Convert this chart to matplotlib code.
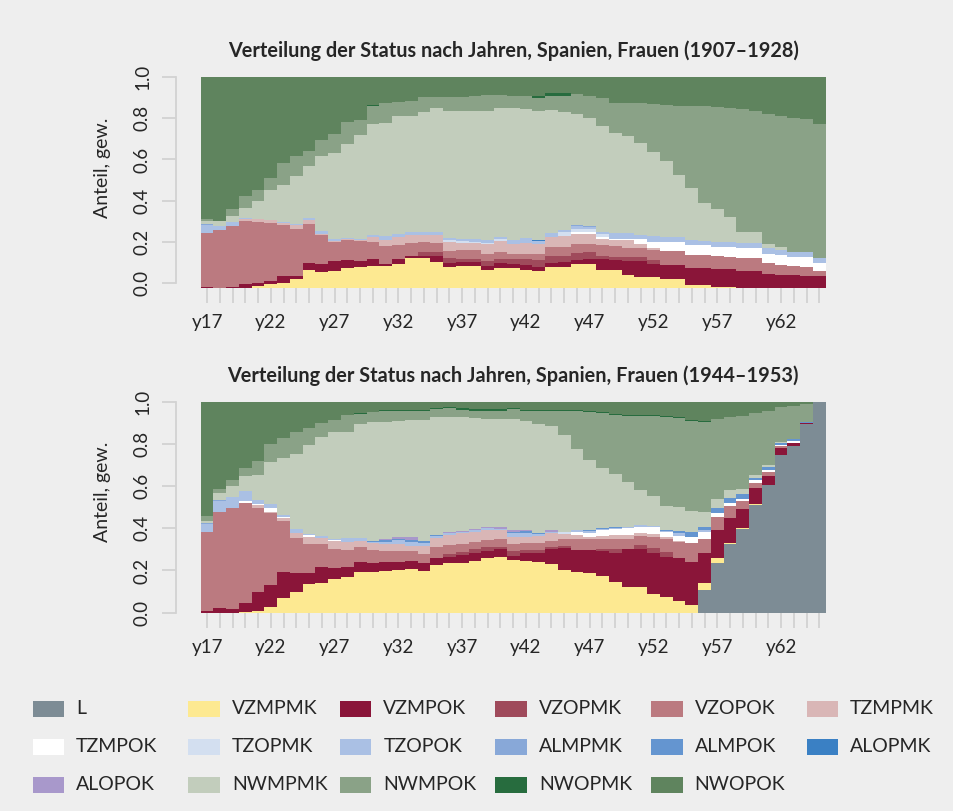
import numpy as np
import matplotlib
matplotlib.use("Agg")
import matplotlib.pyplot as plt
from matplotlib.patches import Rectangle

plt.rcParams['font.family'] = ['Lato', 'DejaVu Sans']

# ---------------- categories ----------------
years = [f"y{y}" for y in range(17, 66)]
series = ["L", "VZMPMK", "VZMPOK", "VZOPMK", "VZOPOK", "TZMPMK", "TZMPOK",
          "TZOPMK", "TZOPOK", "ALMPMK", "ALMPOK", "ALOPMK", "ALOPOK",
          "NWMPMK", "NWMPOK", "NWOPMK", "NWOPOK"]
colors = ["#7d8c95", "#fde991", "#8a1539", "#9f4a5b", "#bb7a80", "#d9b6b6", "#ffffff",
          "#d3dff0", "#aac0e4", "#88a8d8", "#6495d0", "#3a80c4", "#a898cb",
          "#c2cdbc", "#8aa287", "#276c3e", "#5f845e"]
titles = ["Verteilung der Status nach Jahren, Spanien, Frauen (1907\u20131928)",
          "Verteilung der Status nach Jahren, Spanien, Frauen (1944\u20131953)"]

# ---------------- top panel (1907-1928), shares in % ----------------
top_L = [0] * 49
top_VZMPMK = [0, 0, 0, 0, 0.8, 1.6, 2.4, 4.4, 8.4, 7.4, 8.1, 9.5, 10.0, 10.4, 10.4, 11.2, 14.2, 14.2, 12.2, 10.0,
              10.3, 10.3, 8.4, 9.5, 9.6, 8.7, 7.9, 10.0, 10.0, 11.5, 11.5, 8.4, 8.4, 6.0, 4.9, 4.9, 4.4, 4.4, 1.1, 1.1,
              0.5, 0.5, 0, 0, 0, 0, 0, 0, 0]
top_VZMPOK = [0.5, 0, 0.5, 1.6, 1.7, 1.7, 3.2, 1.1, 3.5, 4.1, 4.7, 3.6, 2.7, 3.5, 0.8, 2.5, 1.1, 0.8, 2.8, 1.9,
              1.9, 1.9, 1.9, 2.1, 1.9, 2.1, 2.1, 1.9, 2.1, 1.9, 2.1, 5.2, 4.7, 6.8, 7.9, 6.3, 6.6, 6.6, 8.5, 8.4,
              8.5, 8.4, 8.1, 8.1, 6.8, 6.3, 6.0, 5.7, 5.7]
top_VZOPMK = [0, 0, 0, 0, 0, 0, 0, 0, 0, 0, 0, 0, 0, 0, 0, 0, 0, 2.1, 2.1, 2.4,
              1.6, 1.6, 2.4, 1.9, 2.1, 2.7, 3.2, 3.2, 3.0, 3.3, 3.5, 1.4, 1.6, 1.9, 1.9, 1.9, 0, 0, 0, 0,
              0, 0, 0, 0, 0, 0, 0, 0, 0]
top_VZOPOK = [25.7, 27.3, 28.9, 30.0, 28.8, 27.5, 24.2, 22.6, 18.6, 13.6, 9.0, 9.5, 9.5, 7.9, 8.5, 6.8, 6.0, 4.6, 4.3, 3.3,
              4.1, 4.1, 3.3, 3.6, 2.7, 2.4, 2.7, 4.4, 4.4, 4.3, 3.9, 5.2, 5.1, 4.4, 4.4, 4.7, 6.5, 6.5, 6.2, 6.0,
              6.0, 5.8, 6.2, 6.2, 5.2, 4.7, 4.3, 4.3, 2.2]
top_TZMPMK = [0, 0, 0, 1.1, 1.4, 1.6, 1.1, 1.6, 1.6, 0.5, 0.5, 0.5, 0.5, 2.4, 3.2, 3.6, 3.8, 3.3, 3.6, 4.3,
              3.2, 3.5, 4.6, 5.1, 4.7, 5.2, 4.9, 4.4, 5.2, 4.7, 4.4, 3.2, 2.8, 3.5, 1.6, 1.3, 0, 0, 0, 0,
              0, 0, 0, 0, 0, 0, 0, 0, 0]
top_TZMPOK = [0, 0, 0, 0, 0, 0, 0, 0, 0, 0, 0, 0, 0, 0, 0, 0, 0, 0, 0, 0,
              0, 0, 0, 0, 0, 0, 0, 0, 0, 0.8, 1.1, 0.8, 0.8, 0.8, 2.7, 2.7, 4.3, 4.3, 4.4, 4.7,
              4.4, 4.7, 4.4, 4.4, 4.3, 4.4, 4.4, 4.7, 3.9]
top_TZOPMK = [0, 0, 0, 0, 0, 0, 0, 0, 0, 0, 0, 0, 0, 0, 0, 0, 0, 0, 0, 0.8,
              1.1, 0.5, 0.8, 0.8, 0, 0, 0, 0, 1.9, 1.6, 1.6, 1.3, 0, 0, 0, 0, 0, 0, 0, 0,
              0, 0, 0, 0, 0, 0, 0, 0, 0]
top_TZOPOK = [3.9, 2.2, 1.9, 0.5, 0, 0, 0.3, 0.6, 0.9, 1.3, 1.1, 0.8, 0.5, 1.1, 1.6, 1.3, 1.4, 1.3, 1.3, 0.8,
              0.9, 1.3, 1.3, 1.3, 1.6, 2.4, 1.4, 2.2, 0.8, 1.3, 1.1, 1.1, 2.7, 2.7, 1.6, 2.7, 2.4, 2.4, 2.4, 2.1,
              2.4, 2.4, 2.4, 2.4, 2.4, 2.4, 2.1, 2.1, 2.5]
top_ALMPMK = [0.3, 0, 0, 0, 0, 0, 0, 0, 0, 0, 0, 0, 0, 0, 0, 0, 0, 0, 0, 0,
              0, 0, 0, 0, 0.3, 0, 0, 0, 0, 0.3, 0.3, 0, 0, 0, 0, 0, 0, 0, 0, 0,
              0, 0, 0, 0, 0, 0, 0, 0, 0]
top_ALMPOK = [0] * 49
top_ALOPMK = [0, 0, 0, 0, 0, 0, 0, 0, 0, 0, 0, 0, 0, 0, 0, 0, 0, 0, 0, 0,
              0, 0, 0, 0, 0, 0, 0.5, 0, 0, 0, 0, 0, 0, 0, 0, 0, 0, 0, 0, 0,
              0, 0, 0, 0, 0, 0, 0, 0, 0]
top_ALOPOK = [0] * 49
top_NWMPMK = [1.3, 2.1, 2.7, 4.7, 8.5, 13.9, 17.5, 22.9, 24.8, 36.0, 41.1, 44.7, 49.8, 52.6, 53.9, 56.1, 55.0, 57.2, 59.2, 60.5,
              60.8, 60.8, 61.3, 61.3, 62.9, 61.6, 61.3, 58.6, 56.1, 53.2, 51.5, 50.6, 47.4, 45.8, 43.8, 40.0, 35.9, 29.2, 24.8, 18.2,
              15.5, 11.8, 5.2, 5.2, 2.1, 1.6, 0, 0, 0]
top_NWMPOK = [1.3, 0, 3.3, 5.5, 5.4, 5.8, 10.6, 9.2, 7.0, 7.9, 8.8, 10.4, 7.1, 8.7, 9.3, 7.0, 7.4, 7.1, 5.1, 7.0,
              7.0, 7.1, 7.7, 6.2, 5.8, 6.3, 6.2, 6.6, 7.9, 9.5, 10.3, 13.0, 14.2, 15.8, 19.0, 22.9, 26.9, 33.2, 38.9, 45.8,
              48.5, 51.7, 58.8, 58.0, 61.9, 62.4, 64.0, 63.5, 63.5]
top_NWOPMK = [0, 0, 0, 0, 0, 0, 0, 0, 0, 0, 0, 0, 0, 0.3, 0, 0, 0, 0, 0, 0,
              0, 0, 0, 0, 0, 0, 1.1, 1.3, 1.1, 0, 0, 0, 0, 0, 0, 0, 0, 0, 0, 0,
              0, 0, 0, 0, 0, 0, 0, 0, 0]
top_NWOPOK = [67.3, 68.4, 62.7, 56.6, 53.4, 47.9, 40.8, 37.6, 35.2, 29.7, 27.2, 21.5, 20.5, 13.4, 12.3, 11.5, 11.1, 9.5, 9.5, 9.2,
              9.2, 9.0, 8.4, 8.4, 8.7, 8.7, 8.8, 7.4, 7.6, 7.9, 9.0, 10.0, 12.3, 12.3, 12.3, 12.6, 13.1, 13.4, 13.7, 13.7,
              14.2, 14.7, 15.0, 15.8, 17.4, 18.2, 19.3, 19.7, 22.1]

# ---------------- bottom panel (1944-1953), shares in % ----------------
bot_L = [0, 0, 0, 0, 0, 0, 0, 0, 0, 0, 0, 0, 0, 0, 0, 0, 0, 0, 0, 0,
         0, 0, 0, 0, 0, 0, 0, 0, 0, 0, 0, 0, 0, 0, 0, 0, 0, 0, 0, 10.7,
         23.7, 32.5, 40.0, 51.0, 61.0, 75.2, 79.5, 89.7, 100]
bot_VZMPMK = [0, 0, 0, 0.3, 0.9, 2.8, 7.1, 9.6, 13.4, 14.2, 15.8, 17.1, 19.1, 19.4, 19.7, 20.2, 21.0, 19.9, 22.6, 23.4,
              23.4, 24.6, 25.8, 26.5, 25.0, 24.6, 24.2, 23.1, 20.5, 19.4, 18.6, 17.4, 14.7, 12.0, 12.0, 8.8, 7.6, 5.7, 3.6, 3.5,
              2.4, 0.3, 0.3, 0.5, 0, 0, 0, 0, 0]
bot_VZMPOK = [0.8, 2.1, 1.6, 4.4, 8.7, 10.3, 12.3, 9.3, 5.2, 7.6, 5.5, 4.7, 5.1, 4.3, 4.4, 3.9, 3.6, 3.9, 3.2, 3.2,
              3.9, 3.5, 3.5, 3.6, 2.1, 3.5, 4.4, 7.1, 10.3, 10.6, 11.1, 12.0, 13.9, 18.2, 18.2, 19.6, 19.0, 20.5, 20.2, 14.4,
              13.1, 12.3, 8.8, 7.7, 4.3, 3.2, 1.3, 0.5, 0]
bot_VZOPMK = [0, 0, 0, 0, 0, 0, 0, 0, 0, 0, 0, 0, 0, 0, 0, 0, 0, 0, 0, 1.3,
              1.6, 1.9, 2.1, 1.1, 2.2, 1.6, 1.4, 1.1, 0.8, 0, 0, 0.8, 1.6, 0.3, 1.9, 2.4, 2.1, 0, 0, 0,
              0, 0, 0, 0, 0, 0, 0, 0, 0]
bot_VZOPOK = [37.6, 45.7, 48.3, 47.4, 40.3, 34.0, 24.0, 16.7, 13.9, 10.7, 8.8, 7.9, 6.8, 6.0, 5.2, 5.5, 4.6, 4.3, 5.2, 4.3,
              3.6, 3.6, 3.2, 3.6, 3.3, 3.2, 3.2, 2.7, 3.6, 5.2, 5.5, 5.1, 5.1, 4.7, 4.4, 5.2, 6.3, 7.4, 9.3, 6.6,
              6.3, 5.5, 3.8, 2.5, 1.9, 0.8, 0, 0, 0]
bot_TZMPMK = [0, 0, 0, 0, 1.1, 0.8, 1.6, 2.2, 3.2, 3.0, 3.8, 3.9, 3.2, 3.2, 3.2, 3.2, 2.8, 3.5, 4.6, 4.7,
              5.1, 4.7, 4.7, 4.3, 3.5, 3.2, 3.2, 3.9, 2.4, 1.6, 0.8, 1.1, 1.6, 1.6, 1.6, 1.6, 0.8, 0.8, 0, 0,
              0, 0, 0, 0, 0, 0, 0, 0, 0]
bot_TZMPOK = [0, 0, 0, 0.8, 0.5, 1.6, 0.5, 0, 0.9, 0, 0.8, 0, 0, 0, 0, 0, 0, 0, 0, 0,
              0, 0, 0, 0, 0, 0, 0, 0, 0, 1.6, 2.1, 2.8, 3.2, 3.5, 3.0, 3.2, 2.4, 2.4, 2.8, 3.2,
              1.9, 1.6, 1.3, 1.1, 0.8, 0.8, 1.1, 0, 0]
bot_TZOPMK = [0, 0, 0, 0, 0, 0, 0, 0, 0, 0, 0, 0, 0, 0, 0, 0, 0, 0, 0, 0,
              0, 0, 0, 0, 0, 0, 0, 0, 0.8, 0, 0, 0, 0, 0, 0, 0, 0, 0, 0, 0,
              0, 0, 0, 0, 0, 0, 0, 0, 0]
bot_TZOPOK = [3.9, 5.4, 5.1, 4.7, 2.2, 1.9, 1.1, 2.1, 0.9, 0.9, 0.5, 1.9, 1.1, 0.8, 1.3, 1.6, 1.6, 1.6, 0.9, 1.1,
              0.8, 1.1, 0.8, 0.8, 1.6, 1.9, 0.9, 0.5, 0, 0.8, 0.8, 0.8, 0.5, 0.5, 0.5, 0.5, 0.8, 1.1, 0, 1.1,
              0, 0, 0, 0, 0, 0, 0, 0, 0]
bot_ALMPMK = [0.5, 0.5, 0, 0, 0, 0, 0, 0, 0, 0, 0, 0, 0, 0, 0, 0, 0, 0, 0, 0,
              0, 0, 0, 0, 0, 0, 0, 0, 0, 0, 0, 0, 0, 0, 0, 0, 0, 0, 0, 0,
              0, 0, 0, 0, 0, 0, 0, 0, 0]
bot_ALMPOK = [0, 0, 0, 0, 0, 0, 0, 0, 0, 0, 0, 0, 0, 0.5, 0.6, 0.8, 1.3, 0.9, 0.6, 0,
              0, 0, 0, 0, 0.8, 0.6, 0.8, 0, 0, 0, 0.5, 0.3, 0.3, 0, 0, 0, 0.5, 1.3, 2.4, 1.3,
              2.1, 2.2, 2.4, 1.1, 1.3, 0.6, 0.8, 0.6, 0]
bot_ALOPMK = [0] * 49
bot_ALOPOK = [0, 0, 0, 0, 0, 0, 0, 0, 0, 0, 0, 0, 0, 0, 0.8, 0.8, 1.1, 0, 0, 0.5,
              0.3, 0.5, 0.8, 0.8, 0.8, 0.6, 0, 0.8, 0, 0, 0, 0, 0, 0, 0, 0, 0, 0, 0, 0,
              0, 0, 0, 0, 0, 0, 0, 0, 0]
bot_NWMPMK = [0.8, 3.3, 5.2, 7.1, 11.5, 20.2, 26.9, 35.2, 41.9, 46.9, 50.6, 50.6, 54.5, 56.4, 55.8, 55.6, 56.1, 58.0, 56.1, 54.8,
              54.5, 52.4, 51.3, 51.3, 52.9, 52.1, 52.1, 49.8, 46.6, 38.7, 33.5, 28.6, 25.3, 21.3, 17.1, 14.5, 11.4, 11.4, 10.0, 7.1,
              4.4, 3.6, 2.4, 1.6, 0.8, 0.5, 0, 0, 0]
bot_NWMPOK = [2.2, 1.6, 2.7, 4.1, 6.8, 8.7, 9.6, 10.9, 8.2, 6.6, 6.0, 7.9, 4.7, 4.7, 5.1, 4.7, 4.4, 4.4, 3.6, 3.9,
              3.2, 3.6, 3.6, 3.9, 4.4, 4.7, 6.2, 7.4, 11.1, 18.2, 22.6, 26.4, 28.4, 31.9, 35.1, 37.9, 42.3, 42.3, 42.7, 43.1,
              38.2, 34.8, 34.8, 29.2, 25.8, 16.6, 15.8, 8.4, 0]
bot_NWOPMK = [0, 0, 0, 0, 0, 0, 0, 0, 0, 0, 0, 0, 0.3, 0.3, 0.3, 0.5, 0.5, 0.5, 0.5, 0.5,
              0.8, 0.8, 1.1, 0.8, 0.6, 0.5, 0.4, 0.4, 0.4, 0.4, 0.4, 0.4, 0.4, 0.4, 0.4, 0.4, 0.4, 0.5, 0.5, 0.4,
              0, 0, 0, 0, 0, 0, 0, 0, 0]
bot_NWOPOK = [54.2, 41.5, 37.1, 31.1, 28.0, 19.7, 16.9, 13.9, 12.3, 10.0, 8.2, 6.0, 5.2, 4.4, 3.9, 3.6, 3.5, 3.5, 2.7, 2.4,
              2.8, 3.2, 3.2, 3.2, 2.8, 3.5, 3.6, 3.6, 3.9, 3.9, 4.3, 4.7, 5.5, 6.0, 6.3, 6.3, 6.6, 7.1, 8.5, 9.0,
              7.9, 7.1, 6.3, 5.2, 4.3, 2.4, 1.6, 0.8, 0]

top_data = [top_L, top_VZMPMK, top_VZMPOK, top_VZOPMK, top_VZOPOK, top_TZMPMK, top_TZMPOK,
            top_TZOPMK, top_TZOPOK, top_ALMPMK, top_ALMPOK, top_ALOPMK, top_ALOPOK,
            top_NWMPMK, top_NWMPOK, top_NWOPMK, top_NWOPOK]
bot_data = [bot_L, bot_VZMPMK, bot_VZMPOK, bot_VZOPMK, bot_VZOPOK, bot_TZMPMK, bot_TZMPOK,
            bot_TZOPMK, bot_TZOPOK, bot_ALMPMK, bot_ALMPOK, bot_ALOPMK, bot_ALOPOK,
            bot_NWMPMK, bot_NWMPOK, bot_NWOPMK, bot_NWOPOK]

# ---------------- figure ----------------
W, H = 954, 811
BG = "#eeeeee"
GRID = "#d2d2d2"
TXT = "#262626"
fig = plt.figure(figsize=(W / 100, H / 100), dpi=100, facecolor=BG)


def fx(px):
    return px / W


def fy(py):
    return 1 - py / H


def draw_panel(ax, data, base, title):
    vals = np.array(data, dtype=float)
    shares = vals / vals.sum(axis=0)
    n = shares.shape[1]
    cum = np.vstack([np.zeros(n), np.cumsum(shares, axis=0)])
    cum = base + cum * (1 - base)
    edges = np.arange(n + 1) - 0.5
    for i in range(len(series)):
        if np.allclose(shares[i], 0):
            continue
        ax.stairs(cum[i + 1], edges, baseline=cum[i], fill=True,
                  color=colors[i], linewidth=0)
    ax.set_facecolor(BG)
    ax.set_xlim(-0.5, n - 0.5)
    ax.set_ylim(base, 1.0)
    for s in ["top", "right", "bottom"]:
        ax.spines[s].set_visible(False)
    ax.spines["left"].set_bounds(0, 1)
    ax.spines["left"].set_position(("outward", 24.7 * 0.72))
    ax.spines["left"].set_color(GRID)
    ax.spines["left"].set_linewidth(1.3)
    ax.set_yticks(np.arange(0, 1.01, 0.2))
    ax.set_yticklabels([f"{v:.1f}" for v in np.arange(0, 1.01, 0.2)],
                       rotation=90, va="center", fontsize=13.5, color=TXT)
    ax.tick_params(axis="y", length=10, width=1.3, color=GRID, pad=8)
    ax.set_xticks(np.arange(n))
    ax.set_xticklabels([lab if i % 5 == 0 else "" for i, lab in enumerate(years)],
                       fontsize=13.5, color=TXT)
    ax.tick_params(axis="x", length=10.8, width=1.3, color=GRID, pad=8)
    ax.set_title(title, fontsize=14.3, fontweight="bold", color=TXT, pad=14.3)


ax1 = fig.add_axes([fx(200.7), fy(287.8), fx(625), 210.5 / H])
draw_panel(ax1, top_data, -0.025, titles[0])
ax2 = fig.add_axes([fx(200.7), fy(612.5), fx(625), 210.2 / H])
draw_panel(ax2, bot_data, 0.0, titles[1])

fig.text(fx(103), fy(168), "Anteil, gew.", rotation=90, ha="center", va="center",
         fontsize=14, color=TXT)
fig.text(fx(103), fy(492), "Anteil, gew.", rotation=90, ha="center", va="center",
         fontsize=14, color=TXT)

# ---------------- legend ----------------
leg_x = [32.7, 188.3, 339.8, 495.4, 651.0, 806.6]
leg_y = [709, 747, 785]
for k, name in enumerate(series):
    r, c = divmod(k, 6)
    x0, yc = leg_x[c], leg_y[r]
    fig.add_artist(Rectangle((fx(x0), fy(yc + 8)), 31.6 / W, 16 / H,
                             transform=fig.transFigure, facecolor=colors[k], linewidth=0))
    fig.text(fx(x0 + 43.5), fy(yc), name, ha="left", va="center", fontsize=14, color=TXT)

fig.savefig("out.png", dpi=100, facecolor=BG)
